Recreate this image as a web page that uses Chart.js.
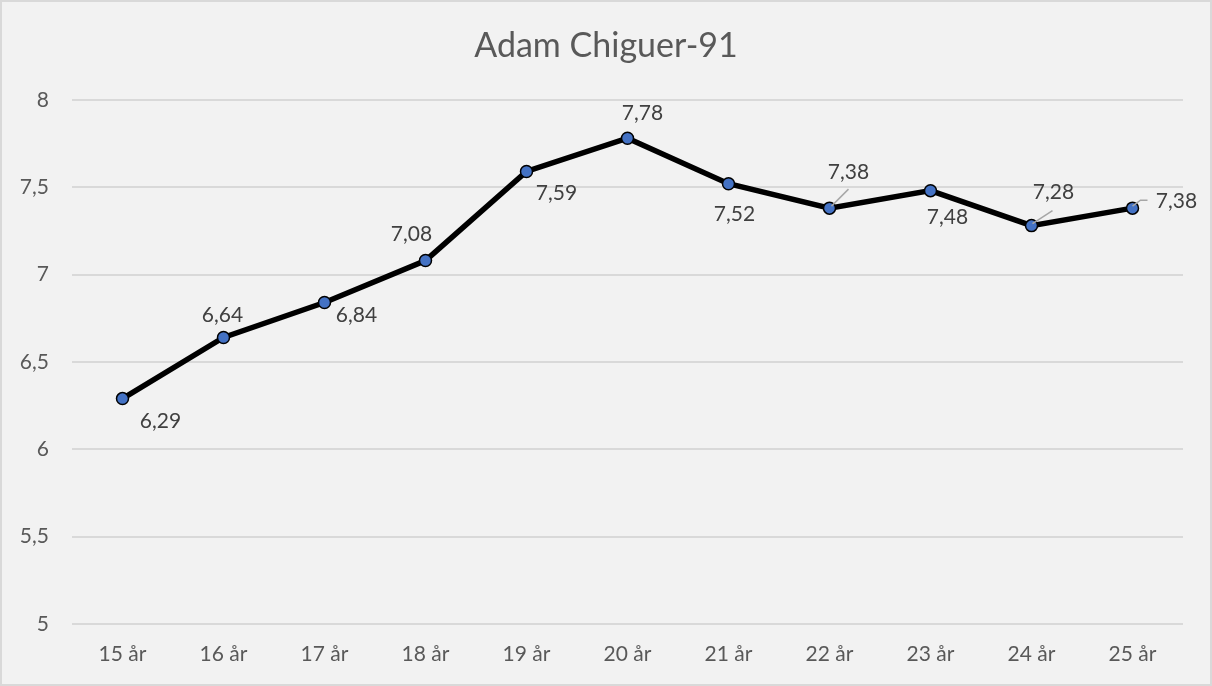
<!DOCTYPE html>
<html>
<head>
<meta charset="utf-8">
<script src="https://cdn.jsdelivr.net/npm/chart.js@4/dist/chart.umd.min.js"></script>
<style>
  html, body { margin: 0; padding: 0; background: #f2f2f2; }
  #wrap {
    position: relative;
    width: 1212px;
    height: 686px;
    background: #f2f2f2;
    box-shadow: inset 0 0 0 2px #d9d9d9;
  }
</style>
</head>
<body>
<div id="wrap"><canvas id="chart"></canvas></div>
<script>
// ---- data ----
const chartTitle = 'Adam Chiguer-91';
const ageLabels = ['15 år', '16 år', '17 år', '18 år', '19 år', '20 år', '21 år', '22 år', '23 år', '24 år', '25 år'];
const ratings = [6.29, 6.64, 6.84, 7.08, 7.59, 7.78, 7.52, 7.38, 7.48, 7.28, 7.38];
const yMin = 5;
const yMax = 8;
const yStep = 0.5;

// ---- label placement (pixel offsets from each point) ----
const labelOffsets = [
  [38, 23], [-1, -22], [32, 13], [-14, -26], [30, 22], [15, -25],
  [6, 31], [19, -36], [17, 27], [22, -33], [44, -7]
];
const leaderLines = {
  7: [[2, -2], [19, -19]],
  9: [[1, -2], [21, -15]],
  10: [[0, -2], [8, -8], [15, -8]]
};

const FONT = 'Lato, "Open Sans", sans-serif';
const commaNum = v => String(v).replace('.', ',');

// draws the value labels like the spreadsheet does
const valueLabels = {
  id: 'valueLabels',
  afterDatasetsDraw(chart) {
    const ctx = chart.ctx;
    const meta = chart.getDatasetMeta(0);
    ctx.save();
    meta.data.forEach((pt, i) => {
      const lines = leaderLines[i];
      if (lines) {
        ctx.strokeStyle = '#a6a6a6';
        ctx.lineWidth = 1.5;
        ctx.beginPath();
        lines.forEach(([dx, dy], k) => {
          if (k === 0) ctx.moveTo(pt.x + dx, pt.y + dy);
          else ctx.lineTo(pt.x + dx, pt.y + dy);
        });
        ctx.stroke();
      }
    });
    ctx.fillStyle = '#404040';
    ctx.font = '21px ' + FONT;
    ctx.textAlign = 'center';
    ctx.textBaseline = 'middle';
    meta.data.forEach((pt, i) => {
      const [dx, dy] = labelOffsets[i];
      ctx.fillText(ratings[i].toFixed(2).replace('.', ','), pt.x + dx, pt.y + dy);
    });
    ctx.restore();
  }
};

new Chart(document.getElementById('chart'), {
  type: 'line',
  data: {
    labels: ageLabels,
    datasets: [{
      data: ratings,
      borderColor: '#000000',
      borderWidth: 5.5,
      tension: 0,
      pointRadius: 6,
      pointBackgroundColor: '#4472c4',
      pointBorderColor: '#000000',
      pointBorderWidth: 1.5,
      clip: false
    }]
  },
  options: {
    responsive: true,
    maintainAspectRatio: false,
    animation: false,
    layout: { padding: 0 },
    plugins: {
      legend: { display: false },
      tooltip: { enabled: false },
      title: {
        display: true,
        text: chartTitle,
        color: '#595959',
        font: { family: FONT, size: 34, weight: 'normal' },
        padding: { top: 26, bottom: 33 }
      }
    },
    scales: {
      x: {
        offset: true,
        grid: { display: false, drawTicks: false },
        border: { display: false },
        ticks: {
          color: '#595959',
          font: { family: FONT, size: 21 },
          padding: 18,
          maxRotation: 0
        },
        afterFit(scale) { scale.height = 62; }
      },
      y: {
        min: yMin,
        max: yMax,
        grid: { color: '#d9d9d9', lineWidth: 2, drawTicks: false },
        border: { display: false },
        ticks: {
          stepSize: yStep,
          color: '#595959',
          font: { family: FONT, size: 21 },
          padding: 23,
          callback: v => commaNum(v)
        },
        afterFit(scale) { scale.width = 72; }
      },
      // empty right-hand margin so the title centres on the whole canvas
      yRight: {
        position: 'right',
        min: yMin,
        max: yMax,
        grid: { display: false, drawTicks: false },
        border: { display: false },
        ticks: { display: false },
        afterFit(scale) { scale.width = 29; }
      }
    }
  },
  plugins: [valueLabels]
});
</script>
</body>
</html>
